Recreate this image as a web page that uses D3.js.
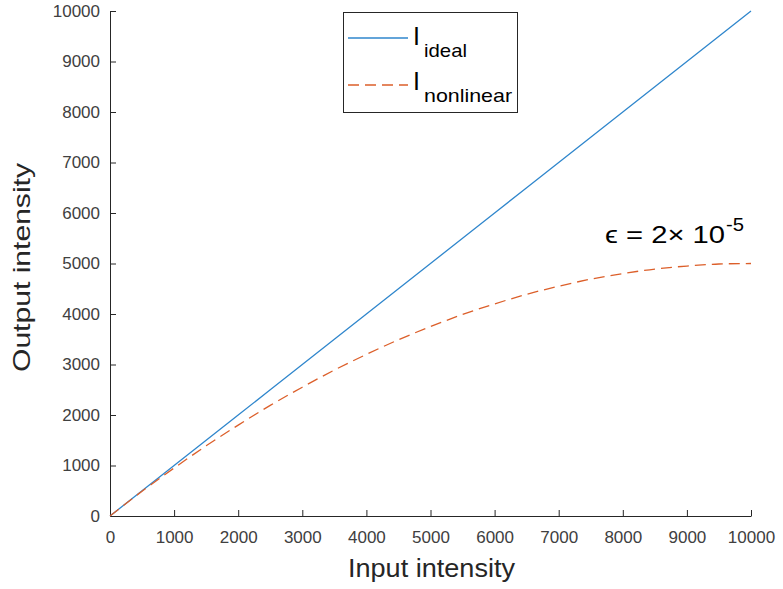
<!DOCTYPE html>
<html>
<head>
<meta charset="utf-8">
<script src="https://cdn.jsdelivr.net/npm/d3@7"></script>
<style>
  html, body { margin: 0; padding: 0; background: #fff; }
  svg { display: block; font-family: "Liberation Sans", Arial, Helvetica, sans-serif; }
</style>
</head>
<body>
<svg id="chart" width="783" height="589"></svg>
<script>
// Input intensity samples
const inputValues = [0, 500, 1000, 1500, 2000, 2500, 3000, 3500, 4000, 4500, 5000,
                     5500, 6000, 6500, 7000, 7500, 8000, 8500, 9000, 9500, 10000];
// Ideal (linear) response
const idealValues = [0, 500, 1000, 1500, 2000, 2500, 3000, 3500, 4000, 4500, 5000,
                     5500, 6000, 6500, 7000, 7500, 8000, 8500, 9000, 9500, 10000];
// Nonlinear response
const nonlinearValues = [0, 490, 950, 1390, 1800, 2190, 2550, 2890, 3200, 3490, 3750,
                         3990, 4200, 4390, 4550, 4690, 4800, 4890, 4950, 4990, 5000];
const xTicks = [0, 1000, 2000, 3000, 4000, 5000, 6000, 7000, 8000, 9000, 10000];
const yTicks = [0, 1000, 2000, 3000, 4000, 5000, 6000, 7000, 8000, 9000, 10000];

const svg = d3.select("#chart");
const plotLeft = 110, plotRight = 751, plotTop = 11, plotBottom = 516;

const x = d3.scaleLinear().domain([0, 10000]).range([plotLeft, plotRight]);
const y = d3.scaleLinear().domain([0, 10000]).range([plotBottom, plotTop]);

const axisColor = "#262626";
const tickText = "#404040";
const blue = "#2f86cc";
const orange = "#dc5f2a";

// Axes (box off, ticks pointing inward)
const xAxis = svg.append("g").attr("transform", `translate(0,${plotBottom})`)
  .call(d3.axisBottom(x).tickValues(xTicks).tickSizeInner(-6).tickSizeOuter(0).tickPadding(15).tickFormat(d3.format("d")));
const yAxis = svg.append("g").attr("transform", `translate(${plotLeft},0)`)
  .call(d3.axisLeft(y).tickValues(yTicks).tickSizeInner(-6).tickSizeOuter(0).tickPadding(10).tickFormat(d3.format("d")));

[xAxis, yAxis].forEach(g => {
  g.select(".domain").attr("stroke", axisColor).attr("stroke-width", 1);
  g.selectAll(".tick line").attr("stroke", axisColor).attr("stroke-width", 1);
  g.selectAll(".tick text").attr("fill", tickText).attr("font-size", 17)
    .attr("font-family", "Liberation Sans, Arial, sans-serif");
});

// Axis labels
svg.append("text").attr("x", 348).attr("y", 577)
  .attr("font-size", 25).attr("fill", axisColor)
  .attr("textLength", 167).attr("lengthAdjust", "spacingAndGlyphs")
  .text("Input intensity");
svg.append("text")
  .attr("transform", `translate(30,372) rotate(-90)`)
  .attr("font-size", 24).attr("fill", axisColor)
  .attr("textLength", 209).attr("lengthAdjust", "spacingAndGlyphs")
  .text("Output intensity");

// Lines
const idealLine = d3.line().x((d, i) => x(inputValues[i])).y(d => y(d));
svg.append("path").datum(idealValues).attr("d", idealLine)
  .attr("fill", "none").attr("stroke", blue).attr("stroke-width", 1.3);

const nonlinearLine = d3.line().curve(d3.curveMonotoneX)
  .x((d, i) => x(inputValues[i])).y(d => y(d));
svg.append("path").datum(nonlinearValues).attr("d", nonlinearLine)
  .attr("fill", "none").attr("stroke", orange).attr("stroke-width", 1.3)
  .attr("stroke-dasharray", "11,6");

// Annotation: ε = 2× 10^-5
svg.append("text").attr("x", 605).attr("y", 243)
  .attr("font-size", 23).attr("fill", "#000")
  .attr("textLength", 120).attr("lengthAdjust", "spacingAndGlyphs")
  .text("\u03F5 = 2\u00D7 10");
svg.append("text").attr("x", 726).attr("y", 231)
  .attr("font-size", 18).attr("fill", "#000")
  .attr("textLength", 18).attr("lengthAdjust", "spacingAndGlyphs")
  .text("-5");

// Legend
const legend = svg.append("g");
legend.append("rect").attr("x", 343.5).attr("y", 12.5).attr("width", 174).attr("height", 100)
  .attr("fill", "#fff").attr("stroke", axisColor).attr("stroke-width", 1);
legend.append("line").attr("x1", 348).attr("x2", 408).attr("y1", 38).attr("y2", 38)
  .attr("stroke", blue).attr("stroke-width", 1.3);
legend.append("line").attr("x1", 348).attr("x2", 408).attr("y1", 85).attr("y2", 85)
  .attr("stroke", orange).attr("stroke-width", 1.3).attr("stroke-dasharray", "11,6");

const legendItems = [
  { sub: "ideal", base: 45, subLen: 43 },
  { sub: "nonlinear", base: 90, subLen: 88 }
];
legendItems.forEach(it => {
  legend.append("text").attr("x", 413).attr("y", it.base)
    .attr("font-size", 25).attr("fill", "#000").text("I");
  legend.append("text").attr("x", 424).attr("y", it.base + 12)
    .attr("font-size", 19).attr("fill", "#000")
    .attr("textLength", it.subLen).attr("lengthAdjust", "spacingAndGlyphs")
    .text(it.sub);
});
</script>
</body>
</html>
